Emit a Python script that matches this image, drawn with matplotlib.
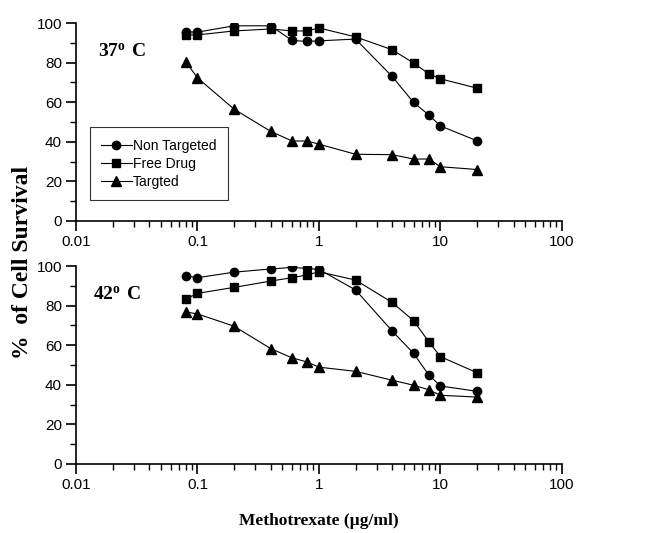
import matplotlib
matplotlib.use("Agg")
import matplotlib.pyplot as plt
from matplotlib.ticker import LogLocator, NullFormatter, FixedLocator
import numpy as np

# Concentrations (ug/ml)
conc = [0.08, 0.1, 0.2, 0.4, 0.6, 0.8, 1, 2, 4, 6, 8, 10, 20]

# 37 C
non_targeted_37 = [95.6, 95.4, 98.6, 98.6, 91.2, 90.7, 91.0, 91.9, 73.0, 59.9, 53.6, 48.0, 40.5]
free_drug_37 = [94.0, 94.0, 96.0, 97.0, 96.0, 96.0, 97.5, 93.0, 86.5, 79.8, 74.4, 71.8, 67.1]
targeted_37 = [80.5, 72.3, 56.5, 45.3, 40.4, 40.4, 38.8, 33.7, 33.5, 31.3, 31.3, 27.4, 26.0]

# 42 C
non_targeted_42 = [95.1, 94.1, 96.9, 98.5, 99.3, 98.8, 98.3, 87.9, 67.2, 55.9, 45.0, 39.4, 36.7]
free_drug_42 = [83.3, 86.2, 89.2, 92.4, 94.1, 95.5, 97.1, 92.9, 81.6, 72.4, 61.8, 54.2, 46.1]
targeted_42 = [76.8, 75.8, 69.6, 58.3, 53.6, 51.5, 48.9, 46.8, 42.3, 39.8, 37.5, 34.7, 33.8]

series_names = ["Non Targeted", "Free Drug", "Targted"]
markers = ["o", "s", "^"]
msizes = [6, 5.5, 7]
xticks = [0.01, 0.1, 1, 10, 100]
xtick_labels = ["0.01", "0.1", "1", "10", "100"]

sans = ["Liberation Sans Narrow", "Liberation Sans", "DejaVu Sans"]
serif = ["Liberation Serif", "DejaVu Serif"]

plt.rcParams["mathtext.fontset"] = "custom"
plt.rcParams["mathtext.rm"] = "Liberation Serif:bold"
plt.rcParams["mathtext.bf"] = "Liberation Serif:bold"

fig = plt.figure(figsize=(6.54, 5.33), dpi=100)
ax_top = fig.add_axes([0.1162, 0.5854, 0.7431, 0.3714])
ax_bot = fig.add_axes([0.1162, 0.1295, 0.7431, 0.3714])

panels = [
    (ax_top, [non_targeted_37, free_drug_37, targeted_37], "37", 0.045, 0.86),
    (ax_bot, [non_targeted_42, free_drug_42, targeted_42], "42", 0.035, 0.86),
]

for ax, data, temp, tx, ty in panels:
    for vals, name, m, ms in zip(data, series_names, markers, msizes):
        ax.plot(conc, vals, color="black", linewidth=0.8, marker=m,
                markersize=ms, label=name)
    ax.set_xscale("log")
    ax.set_xlim(0.01, 100)
    ax.set_ylim(0, 100)
    ax.spines["top"].set_visible(False)
    ax.spines["right"].set_visible(False)
    ax.spines["left"].set_linewidth(1.2)
    ax.spines["bottom"].set_linewidth(1.2)
    ax.set_yticks([0, 20, 40, 60, 80, 100])
    ax.yaxis.set_minor_locator(FixedLocator([10, 30, 50, 70, 90]))
    ax.set_xticks(xticks, xtick_labels)
    ax.xaxis.set_minor_locator(LogLocator(base=10, subs=np.arange(2, 10), numticks=20))
    ax.xaxis.set_minor_formatter(NullFormatter())
    ax.tick_params(which="major", direction="out", length=7, width=1.2,
                   labelsize=11, pad=3)
    ax.tick_params(which="minor", direction="out", length=4, width=1.0)
    for lab in ax.get_xticklabels() + ax.get_yticklabels():
        lab.set_family(sans)
    ax.text(tx, ty, r"$\mathbf{" + temp + r"^{o}\ C}$", transform=ax.transAxes,
            fontsize=14, va="center")

leg = ax_top.legend(loc="lower left", bbox_to_anchor=(0.029, 0.106),
                    borderaxespad=0, frameon=True, fancybox=False,
                    edgecolor="black", handlelength=2.2, handletextpad=0.1,
                    labelspacing=0.3, borderpad=0.8,
                    prop={"family": sans, "size": 10})
leg.get_frame().set_linewidth(0.8)

fig.text(0.034, 0.508, "%  of Cell Survival", rotation=90, ha="center", va="center",
         fontsize=17, fontweight="bold", family=serif)
fig.text(0.487, 0.023, "Methotrexate (\u00b5g/ml)", ha="center", va="center",
         fontsize=12.5, fontweight="bold", family=serif)

fig.savefig("out.png", dpi=100)
